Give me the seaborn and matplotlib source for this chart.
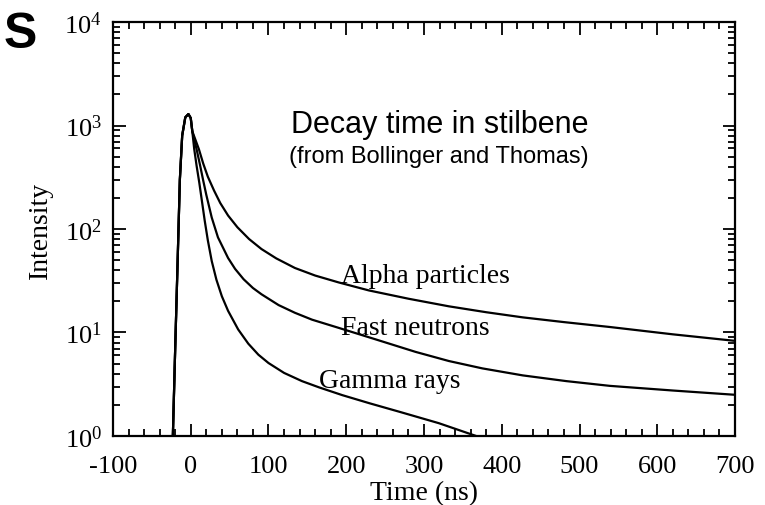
import matplotlib
matplotlib.use('Agg')
import matplotlib.pyplot as plt
import matplotlib.ticker as mticker
import numpy as np
import pandas as pd
import seaborn as sns

# Values (time in ns, intensity in arbitrary units)
# rising edge + peak shared by all three curves
rise_t = [-23, -20, -17, -14, -11, -7, -3, 0, 2]
rise_i = [1.0, 7, 45, 300, 800, 1200, 1290, 1180, 880]

gamma_t = [4.5, 7.5, 11, 14, 18, 22, 27, 33, 40, 48, 61, 74, 87, 100, 120, 143, 165, 195,
           230, 270, 319, 367]
gamma_i = [590, 410, 280, 195, 120, 77.6, 49, 32.4, 22.4, 16.2, 10.7, 7.8, 6.1, 5.07, 4.07, 3.39,
           2.95, 2.48, 2.07, 1.70, 1.33, 1.0]

fast_t = [7.5, 11.8, 16, 20, 27, 35, 48, 57, 68, 80, 91, 113, 134, 156, 190, 229, 289, 332,
          375, 427, 483, 539, 620, 700]
fast_i = [590, 420, 295, 214, 129, 83, 52.5, 41.2, 32.7, 26.9, 23.4, 18.4, 15.5, 13.3, 11.1,
          9.0, 6.5, 5.3, 4.5, 3.85, 3.39, 3.05, 2.75, 2.5]

alpha_t = [10.5, 16, 22, 30, 38, 48, 60, 75, 91, 110, 134, 160, 190, 229, 280, 332, 380, 427,
           480, 539, 620, 700]
alpha_i = [590, 430, 320, 235, 178, 135, 104, 80, 64, 52, 42, 35.5, 30.5, 25.5, 21.2, 17.9, 15.7,
           14.0, 12.6, 11.3, 9.6, 8.3]

labels = ['Alpha particles', 'Fast neutrons', 'Gamma rays']
label_pos = [(193, 30.8), (193, 9.7), (165, 2.97)]

sns.set_style('ticks')
plt.rcParams['font.family'] = ['Liberation Serif', 'DejaVu Serif']
plt.rcParams['mathtext.fontset'] = 'custom'
plt.rcParams['mathtext.rm'] = 'Liberation Serif'
plt.rcParams['text.color'] = 'black'
plt.rcParams['axes.labelcolor'] = 'black'

fig = plt.figure(figsize=(7.65, 5.06), dpi=100)
ax = fig.add_axes([0.1477, 0.1364, 0.8131, 0.8181])

frames = []
for name, t, i in [('alpha', alpha_t, alpha_i), ('fast', fast_t, fast_i), ('gamma', gamma_t, gamma_i)]:
    frames.append(pd.DataFrame({'time': rise_t + t, 'intensity': rise_i + i, 'kind': name}))
df = pd.concat(frames, ignore_index=True)

for name in ['alpha', 'fast', 'gamma']:
    sub = df[df['kind'] == name]
    sns.lineplot(data=sub, x='time', y='intensity', ax=ax, color='black', lw=1.6, sort=False)

ax.set_yscale('log')
ax.set_xlim(-100, 700)
ax.set_ylim(1, 1e4)

ax.xaxis.set_major_locator(mticker.MultipleLocator(100))
ax.xaxis.set_minor_locator(mticker.MultipleLocator(20))
ax.yaxis.set_major_locator(mticker.LogLocator(base=10, numticks=10))
ax.yaxis.set_minor_locator(mticker.LogLocator(base=10, subs=np.arange(2, 10), numticks=20))
ax.yaxis.set_minor_formatter(mticker.NullFormatter())
ax.xaxis.set_major_formatter(mticker.FuncFormatter(lambda v, p: '%d' % v))

ax.tick_params(which='both', direction='in', top=True, right=True, width=1.3, labelsize=19, colors='black')
ax.tick_params(which='major', length=9)
ax.tick_params(axis='x', which='major', pad=14)
ax.tick_params(axis='y', which='major', pad=8)
ax.tick_params(which='minor', length=5)
for s in ax.spines.values():
    s.set_linewidth(1.6)
    s.set_color('black')

ax.set_xlabel('Time (ns)', fontsize=20, labelpad=2)
ax.set_ylabel('Intensity', fontsize=20, labelpad=8)

for lab, (x, y) in zip(labels, label_pos):
    ax.text(x, y, lab, fontsize=20, ha='left', va='baseline')

ax.text(0.526, 0.754, 'Decay time in stilbene', transform=ax.transAxes,
        fontsize=22, ha='center', va='center', family=['Liberation Sans', 'DejaVu Sans'])
ax.text(0.524, 0.676, '(from Bollinger and Thomas)', transform=ax.transAxes,
        fontsize=17, ha='center', va='center', family=['Liberation Sans', 'DejaVu Sans'])

fig.text(0.005, 0.93, 'S', fontsize=36, fontweight='bold', ha='left', va='center',
         family=['Liberation Sans', 'DejaVu Sans'])

fig.savefig('out.png', dpi=100, facecolor='white')
